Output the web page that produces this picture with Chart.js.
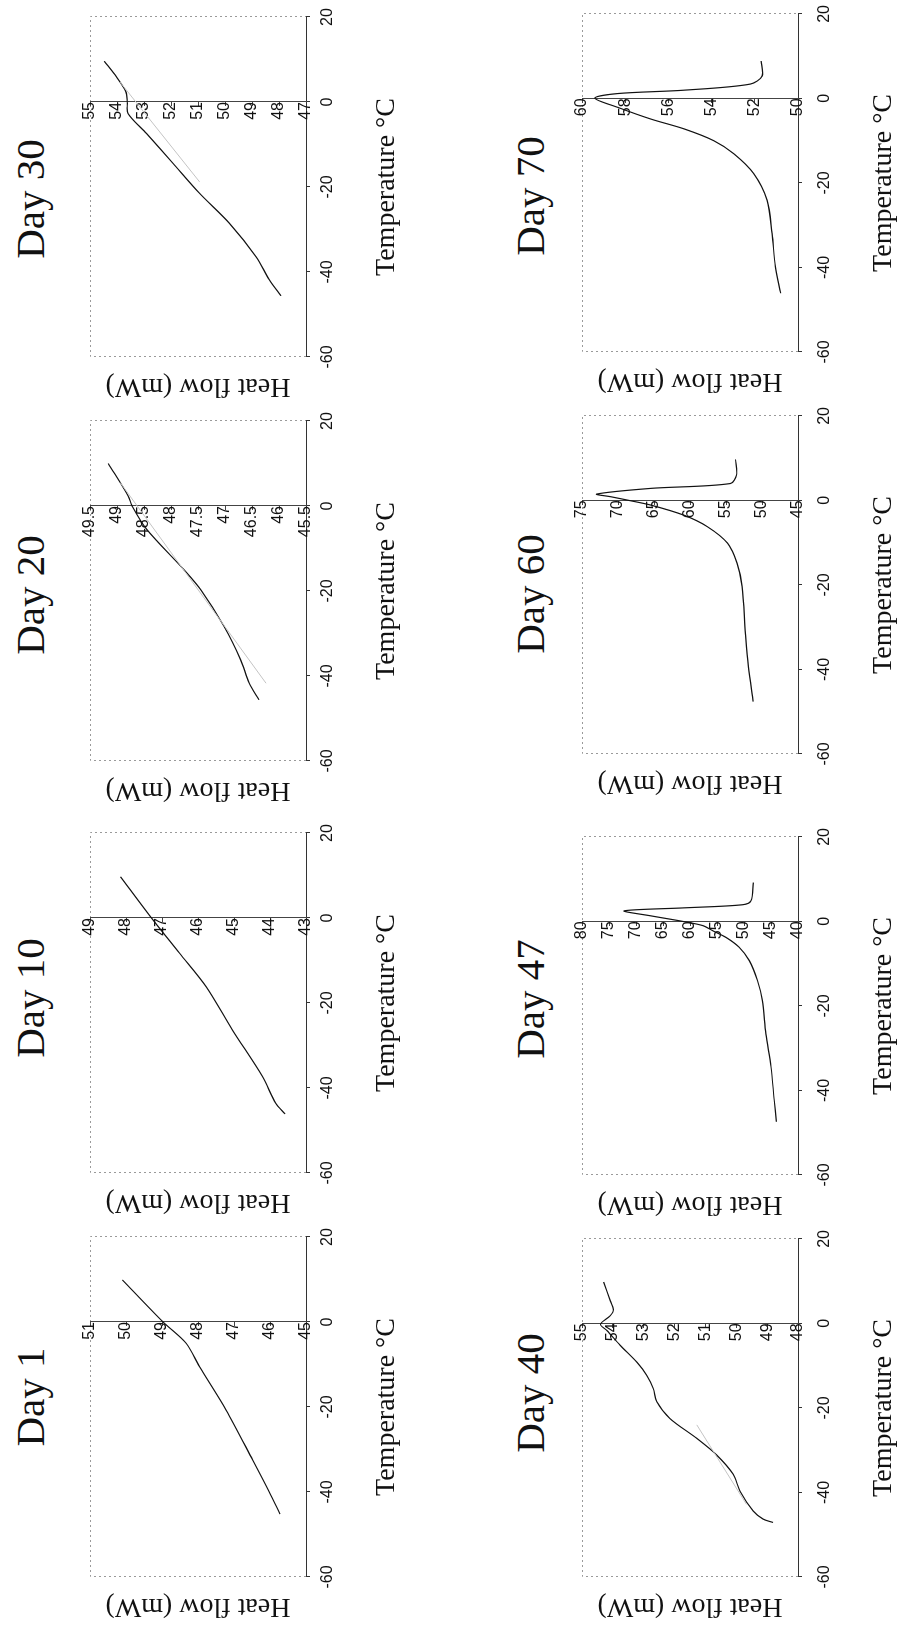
<!DOCTYPE html>
<html>
<head>
<meta charset="utf-8">
<script src="https://cdn.jsdelivr.net/npm/chart.js@4"></script>
<style>
  html, body { margin: 0; padding: 0; background: #fff; overflow: hidden; }
  /* the figure is laid out landscape, then turned a quarter turn counter-clockwise */
  #fig { position: absolute; left: 0; top: 0; width: 1626px; height: 900px;
         transform-origin: 0 0; transform: translateY(1626px) rotate(-90deg); }
  .panel { position: absolute; }
  .day { position: absolute; width: 200px; height: 48px; line-height: 48px; text-align: center;
         font: 41px "Liberation Serif", serif; color: #111; }
</style>
</head>
<body>
<div id="fig"></div>
<script>
// ── Data (temperature °C / heat flow mW) ──
const dayLabels = ["Day 1", "Day 10", "Day 20", "Day 30", "Day 40", "Day 47", "Day 60", "Day 70"];

const day1Temp  = [9.9, 0, -5, -10.5, -20.7, -32.5, -40, -45.2];
const day1Heat  = [50.1, 48.97, 48.33, 47.96, 47.22, 46.48, 46.02, 45.72];

const day10Temp = [9.7, 0, -8.3, -16.2, -26.4, -37.3, -43.6, -46.1];
const day10Heat = [48.15, 47.29, 46.51, 45.77, 45.04, 44.21, 43.84, 43.58];

const day20Temp = [10.0, 2.3, 0, -5.5, -15.0, -19.7, -28.3, -36.2, -41.7, -45.6];
const day20Heat = [49.16, 48.79, 48.72, 48.45, 47.76, 47.45, 47.02, 46.71, 46.55, 46.37];
const day20BaseTemp = [5.5, -41.7];
const day20BaseHeat = [48.94, 46.24];

const day30Temp = [9.6, 5.9, 2.4, 0, -2.7, -7.4, -14.4, -21.5, -28.5, -36.4, -41.8, -45.6];
const day30Heat = [54.47, 54.02, 53.67, 53.62, 53.59, 52.91, 51.93, 50.94, 49.84, 48.85, 48.36, 47.93];
const day30BaseTemp = [4.7, -18.8];
const day30BaseHeat = [53.89, 50.94];

const day40Temp = [9.8, 5.3, 3.3, 1.8, -0.2, -1.7, -5.2, -9.2, -12.3, -15.4, -18.5, -22.5, -27.2, -31.1, -35.7, -39.7, -44.4, -46.3, -47.1];
const day40Heat = [54.3, 54.08, 53.98, 54.09, 54.4, 54.19, 53.76, 53.22, 52.9, 52.69, 52.58, 52.15, 51.28, 50.64, 50.1, 49.88, 49.45, 49.13, 48.81];
const day40BaseTemp = [-24, -42.8];
const day40BaseHeat = [51.28, 49.67];

const day47Temp = [9.2, 4.9, 3.95, 3.2, 2.5, 1.35, 0, -1.0, -2.2, -3.8, -6.1, -9.3, -14.0, -18.7, -26.6, -34.4, -42.3, -47.4];
const day47Heat = [48.28, 48.7, 50.25, 61.3, 72.2, 67.4, 61.3, 57.6, 55.8, 53.3, 50.9, 49.0, 47.5, 46.6, 45.95, 45.0, 44.4, 44.0];

const day60Temp = [9.7, 6.0, 4.0, 2.85, 1.5, 0.87, 0.08, -1.1, -3.5, -6.2, -10.1, -14.9, -20.4, -31.4, -39.3, -47.6];
const day60Heat = [53.68, 53.54, 54.4, 65.45, 72.97, 70.99, 68.7, 65.45, 60.84, 57.6, 54.8, 53.45, 52.75, 52.3, 51.9, 51.23];

const day70Temp = [8.86, 5.3, 3.4, 1.95, 1.15, 0.07, -2.1, -4.9, -7.2, -10.0, -13.1, -17.8, -24.1, -32.0, -39.8, -46.1];
const day70Heat = [51.71, 51.66, 52.2, 55.28, 58.35, 59.4, 58.35, 56.8, 55.28, 53.9, 52.97, 52.05, 51.43, 51.2, 51.05, 50.8];

// heat flow axis per panel
const heatMin  = [45, 43, 45.5, 47, 48, 40, 45, 50];
const heatMax  = [51, 49, 49.5, 55, 55, 80, 75, 60];
const heatStep = [1, 1, 0.5, 1, 1, 5, 5, 2];

// temperature axis (same for all)
const tempMin = -60, tempMax = 20, tempStep = 20;

const curves = [
  [day1Temp, day1Heat], [day10Temp, day10Heat], [day20Temp, day20Heat], [day30Temp, day30Heat],
  [day40Temp, day40Heat], [day47Temp, day47Heat], [day60Temp, day60Heat], [day70Temp, day70Heat],
];
const baselines = [null, null, [day20BaseTemp, day20BaseHeat], [day30BaseTemp, day30BaseHeat],
                   [day40BaseTemp, day40BaseHeat], null, null, null];

// ── Layout (landscape coordinates, before the quarter turn) ──
const SERIF = "'Liberation Serif', 'Times New Roman', serif";
const SANS  = "'Liberation Sans', Arial, sans-serif";
const canvasLeft = [0, 404, 816, 1220, 0, 402, 823, 1225];
const titleCenter = [229, 628, 1031, 1427, 233, 627, 1032, 1430];
const ROWS = [
  { top: 0,   height: 406, xH: 100, tickPad: 8,  titlePad: 3, dayTop: 6 },
  { top: 492, height: 408, xH: 102, tickPad: 13, titlePad: 0, dayTop: 506 },
];

Chart.defaults.font.family = SANS;
Chart.defaults.color = "#111";

// dotted frame on the three open sides of the plot
const dottedFrame = {
  id: "dottedFrame",
  beforeDraw(chart) {
    const { ctx, chartArea: a } = chart;
    ctx.save();
    ctx.strokeStyle = "#9a9a9a";
    ctx.lineWidth = 1;
    ctx.setLineDash([2, 3]);
    ctx.beginPath();
    ctx.moveTo(Math.round(a.left) + 0.5, a.bottom);
    ctx.lineTo(Math.round(a.left) + 0.5, Math.round(a.top) + 0.5);
    ctx.lineTo(Math.round(a.right) + 0.5, Math.round(a.top) + 0.5);
    ctx.lineTo(Math.round(a.right) + 0.5, a.bottom);
    ctx.stroke();
    ctx.restore();
  }
};

const pts = (t, h) => t.map((v, i) => ({ x: v, y: h[i] }));
const fmt = v => String(Number(v.toFixed(2)));

function mkPanel(i) {
  const row = ROWS[i < 4 ? 0 : 1];
  const fig = document.getElementById("fig");

  const title = document.createElement("div");
  title.className = "day";
  title.textContent = dayLabels[i];
  title.style.left = (titleCenter[i] - 100) + "px";
  title.style.top = row.dayTop + "px";
  fig.appendChild(title);

  const cv = document.createElement("canvas");
  cv.className = "panel";
  cv.width = 409; cv.height = row.height;
  cv.style.left = canvasLeft[i] + "px";
  cv.style.top = row.top + "px";
  fig.appendChild(cv);

  const datasets = [];
  if (baselines[i]) {
    datasets.push({ data: pts(baselines[i][0], baselines[i][1]), showLine: true, borderColor: "#c4c4c4",
                    borderWidth: 1, pointRadius: 0, xAxisID: "x", yAxisID: "y" });
  }
  datasets.push({ data: pts(curves[i][0], curves[i][1]), showLine: true, borderColor: "#111",
                  borderWidth: 1.2, pointRadius: 0, tension: 0.3, xAxisID: "x", yAxisID: "y" });

  new Chart(cv, {
    type: "scatter",
    data: { datasets },
    plugins: [dottedFrame],
    options: {
      responsive: false,
      animation: false,
      layout: { padding: { top: 90, right: 20, left: 0, bottom: 0 } },
      plugins: { legend: { display: false }, tooltip: { enabled: false } },
      scales: {
        x: {
          type: "linear", position: "bottom", min: tempMin, max: tempMax,
          ticks: { stepSize: tempStep, font: { size: 16 }, color: "#111", padding: row.tickPad, maxRotation: 0, autoSkip: false },
          grid: { drawOnChartArea: false, tickLength: 4, color: "#333" },
          border: { color: "#333", width: 1 },
          title: { display: true, text: "Temperature °C", font: { family: SERIF, size: 28 }, color: "#111",
                   padding: { top: 0, bottom: row.titlePad } },
          afterFit: s => { s.height = row.xH; },
        },
        y: {
          type: "linear", position: { x: 0 }, min: heatMin[i], max: heatMax[i],
          ticks: { stepSize: heatStep[i], font: { size: 16 }, color: "#111", padding: 6, autoSkip: false, callback: fmt },
          grid: { drawOnChartArea: false, tickLength: 4, color: "#444" },
          border: { color: "#444", width: 1 },
        },
        yt: {
          type: "linear", position: "left",
          ticks: { display: false },
          grid: { display: false },
          border: { display: false },
          title: { display: true, text: "Heat flow (mW)", font: { family: SERIF, size: 28 }, color: "#111",
                   padding: { top: 3, bottom: 0 } },
          afterFit: s => { s.width = 49; },
        },
      },
    },
  });
}

for (let i = 0; i < dayLabels.length; i++) mkPanel(i);
</script>
</body>
</html>
